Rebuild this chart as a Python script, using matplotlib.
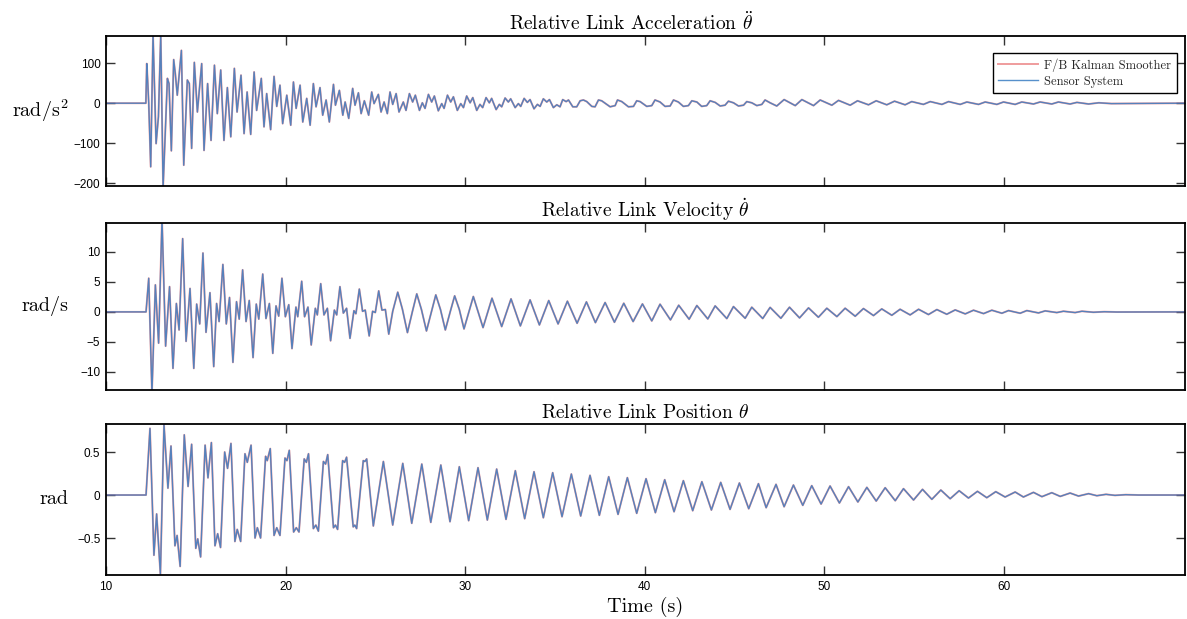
import matplotlib
matplotlib.use("Agg")
import matplotlib.pyplot as plt
from matplotlib.ticker import FuncFormatter

plt.rcParams['mathtext.fontset'] = 'cm'
plt.rcParams['font.family'] = ['Liberation Sans', 'DejaVu Sans']

# values (extrema of each trace); the smoother and
# the sensor traces lie on top of each other, so both use the same points
acc_t = [10.0, 12.22, 12.27, 12.32, 12.38, 12.49, 12.62, 12.79, 12.92, 13.05, 13.18,
         13.42, 13.51, 13.64, 13.77, 13.86, 13.97, 14.20, 14.33, 14.53, 14.64, 14.77,
         14.92, 15.09, 15.33, 15.46, 15.66, 15.85, 16.04, 16.20, 16.39, 16.57, 16.76,
         16.95, 17.15, 17.30, 17.52, 17.69, 17.86, 18.06, 18.25, 18.39, 18.65, 18.80,
         18.95, 19.17, 19.36, 19.51, 19.69, 19.84, 20.07, 20.29, 20.44, 20.59, 20.81,
         20.96, 21.18, 21.37, 21.55, 21.70, 21.92, 22.07, 22.26, 22.44, 22.67, 22.78,
         23.00, 23.19, 23.32, 23.52, 23.74, 23.87, 24.06, 24.21, 24.39, 24.63, 24.80,
         24.93, 25.17, 25.32, 25.49, 25.67, 25.82, 25.97, 26.16, 26.32,
         26.56, 26.71, 26.90, 27.08, 27.23, 27.46, 27.62, 27.77, 27.96, 28.14, 28.29,
         28.51, 28.70, 28.83, 29.02, 29.20, 29.35, 29.57, 29.76, 29.91, 30.09, 30.28,
         30.43, 30.65, 30.83, 30.98, 31.17, 31.35, 31.48, 31.73, 31.91, 32.04, 32.23,
         32.41, 32.54, 32.79, 32.97, 33.10, 33.29, 33.47, 33.62, 33.84, 34.03, 34.18,
         34.36, 34.55, 34.70, 34.92, 35.11, 35.29, 35.44, 35.63, 35.76,
         36.00, 36.22, 36.41, 36.59, 36.78, 37.06, 37.24, 37.43, 37.61, 38.08, 38.36,
         38.49, 38.73, 39.10, 39.38, 39.56, 39.75, 40.12, 40.40, 40.58, 40.86, 41.14,
         41.42, 41.61, 41.88, 42.16, 42.44, 42.63, 42.91, 43.18, 43.46, 43.65, 43.93,
         44.21, 44.48, 44.67, 44.95, 45.23, 45.51, 45.69, 45.97, 46.25, 46.53, 46.71,
         46.99, 47.36, 47.77, 48.39, 48.76, 49.41, 49.78, 50.43, 50.80, 51.45, 51.86,
         52.47, 52.90, 53.49, 53.92, 54.51, 54.88, 55.53, 55.91, 56.56, 56.93, 57.58,
         57.95, 58.60, 58.97, 59.62, 59.99, 60.64, 61.01, 61.66, 62.03, 62.68, 63.05,
         63.70, 64.08, 64.73, 65.30, 66.00, 70.10]
acc_v = [0, 0, 99, 57, 0, -159, 172, -101, -34, 172, -212,
         62, 49, -119, 109, 74, 20, 132, -155, 58, 49, -113,
         102, -22, 99, -118, 49, -93, 95, -26, 83, -93, 39,
         -84, 87, -22, 70, -76, 28, -78, 78, -18, 62, -59,
         24, -66, 67, -8, 45, -51, 20, -55, 53, -13, 45,
         -47, 12, -55, 49, -9, 39, -30, 8, -47, 47, -5,
         32, -30, 3, -38, 37, -5, 26, -26, 6, -30, 28,
         -1, 22, -22, 3, -26, 28, -3, 24, -22,
         3, -18, 24, 3, 20, -18, 1, -13, 22, 3, 18,
         -19, -1, -13, 20, 3, 16, -18, -1, -11, 18, 1,
         14, -18, -3, -11, 14, 1, 12, -16, -3, -9, 13,
         3, 11, -11, -1, -8, 12, 2, 9, -14, -3, -8,
         11, 3, 9, -11, -4, -9, 9, 4, 8,
         -9, -9, 6, 8, 4, -8, -9, 8, 6, -9, -6,
         8, 4, -9, -8, 6, 4, -8, -6, 8, 3, -8,
         -7, 8, 3, -8, -6, 6, 3, -8, -6, 6, 2,
         -7, -5, 5, 1, -7, -5, 4, 1, -6, -3, 8,
         1, -7, 9, -6, 9, -6, 8, -5, 7, -5, 6,
         -4, 6, -4, 5, -4, 4, -3, 4, -3, 4, -3,
         3, -3, 3, -3, 3, -3, 3, -2, 3, -2, 3,
         -2, 2, -2, 1, -1, 0]

vel_t = [10.0, 12.23, 12.38, 12.56, 12.75, 12.93, 13.12, 13.32, 13.54, 13.73, 13.92,
         14.07, 14.27, 14.46, 14.68, 14.89, 15.05, 15.22, 15.40, 15.57, 15.79, 16.00,
         16.16, 16.30, 16.51, 16.70, 16.88, 17.07, 17.27, 17.42, 17.61, 17.80, 17.98,
         18.19, 18.37, 18.51, 18.73, 18.91, 19.10, 19.29, 19.47, 19.62, 19.80, 19.99,
         20.18, 20.36, 20.58, 20.68, 20.90, 21.06, 21.25, 21.43, 21.66, 21.77, 21.96,
         22.14, 22.33, 22.51, 22.72, 22.85, 23.03, 23.22, 23.40, 23.59, 23.81, 23.92,
         24.11, 24.29, 24.44, 24.66, 24.85, 25.00, 25.19, 25.37, 25.56, 25.75, 25.97,
         26.25, 26.51, 26.79, 27.07, 27.31, 27.57, 27.85, 28.13, 28.37, 28.63, 28.90,
         29.18, 29.42, 29.68, 29.94, 30.22, 30.46, 31.00, 31.50, 32.04, 32.56, 33.08,
         33.62, 34.14, 34.66, 35.18, 35.70, 36.24, 36.76, 37.26, 37.80, 38.32, 38.84,
         39.36, 39.88, 40.40, 40.86, 41.44, 41.90, 42.48, 42.91, 43.52, 43.93, 44.58,
         44.95, 45.60, 45.97, 46.58, 46.99, 47.59, 48.07, 48.63, 49.13, 49.68, 50.15,
         50.71, 51.17, 51.73, 52.19, 52.75, 53.21, 53.77, 54.23, 54.79, 55.26, 55.81,
         56.28, 56.83, 57.30, 57.86, 58.32, 58.88, 59.34, 59.90, 60.27, 60.92, 61.29,
         61.94, 62.31, 62.96, 63.33, 63.98, 64.36, 65.00, 65.60, 66.30, 70.10]
vel_v = [0, 0, 5.6, -13.5, 4.5, -5.2, 15.5, -5.7, 4.2, -9.4, 1.4,
         -3.0, 12.2, -4.9, 3.9, -9.4, 1.3, -2.0, 9.8, -3.4, 3.2, -9.1,
         1.4, -1.6, 7.9, -2.0, 2.4, -8.4, 1.7, -1.2, 7.0, -1.6, 1.9,
         -7.6, 1.3, -1.2, 6.3, -1.1, 1.4, -6.9, 1.0, -0.7, 5.6, -0.8,
         1.2, -6.1, 0.8, -0.8, 5.1, -0.8, 0.8, -5.5, 0.6, -0.5, 4.7,
         -0.5, 0.6, -4.8, 0.3, -0.5, 4.2, -0.2, 0.6, -4.4, 0.2, -0.3,
         3.8, 0.1, 0.3, -4.0, 0.1, -0.1, 3.5, 0.3, 0.4, -3.7, 0.1,
         3.28, 0.45, -3.44, 0.1, 3.0, 0.4, -3.17, 0.1, 2.83, 0.4, -3.0,
         0.1, 2.67, 0.4, -2.83, 0.1, 2.56, -2.61, 2.28, -2.44, 2.17, -2.33,
         2.0, -2.17, 1.89, -2.0, 1.78, -1.89, 1.67, -1.78, 1.56, -1.72, 1.44,
         -1.61, 1.33, -1.5, 1.28, -1.33, 1.11, -1.22, 1.06, -1.17, 1.0, -1.11,
         0.89, -1.06, 0.78, -1.1, 0.75, -1.06, 0.78, -1.0, 0.67, -0.89, 0.61,
         -0.78, 0.61, -0.72, 0.56, -0.61, 0.5, -0.56, 0.44, -0.5, 0.44, -0.44,
         0.39, -0.39, 0.33, -0.33, 0.28, -0.28, 0.28, -0.22, 0.22, -0.22, 0.22,
         -0.17, 0.17, -0.11, 0.11, -0.11, 0.11, -0.06, 0.03, -0.02, 0]

pos_t = [10.0, 12.23, 12.45, 12.67, 12.82, 13.03, 13.23, 13.45, 13.62, 13.84, 13.96,
         14.13, 14.36, 14.57, 14.77, 15.00, 15.11, 15.27, 15.52, 15.68, 15.87, 16.07,
         16.22, 16.38, 16.61, 16.77, 16.96, 17.18, 17.31, 17.50, 17.74, 17.87, 18.08,
         18.30, 18.43, 18.61, 18.89, 18.98, 19.15, 19.36, 19.51, 19.69, 19.97, 20.08,
         20.21, 20.45, 20.60, 20.75, 21.04, 21.16, 21.28, 21.55, 21.69, 21.83, 22.11,
         22.23, 22.35, 22.67, 22.78, 22.90, 23.18, 23.29, 23.40, 23.77, 23.86, 23.96,
         24.33, 24.42, 24.52, 24.89, 25.45, 25.97, 26.53, 27.03, 27.59, 28.09, 28.65,
         29.16, 29.68, 30.20, 30.72, 31.24, 31.76, 32.28, 32.80, 33.32, 33.84, 34.36,
         34.88, 35.40, 35.92, 36.44, 36.96, 37.48, 38.00, 38.52, 39.04, 39.56, 40.08,
         40.60, 41.12, 41.64, 42.16, 42.68, 43.19, 43.72, 44.24, 44.76, 45.28, 45.80,
         46.34, 46.77, 47.32, 47.77, 48.29, 48.81, 49.31, 49.83, 50.33, 50.85, 51.36,
         51.88, 52.38, 52.90, 53.40, 53.96, 54.42, 54.98, 55.48, 56.00, 56.50, 57.02,
         57.52, 58.04, 58.54, 59.06, 59.56, 60.08, 60.64, 61.10, 61.66, 62.13, 62.68,
         63.15, 63.70, 64.17, 64.73, 65.19, 65.70, 66.20, 66.80, 67.50, 70.10]
pos_v = [0, 0, 0.775, -0.70, -0.22, -0.92, 0.82, 0.08, 0.57, -0.59, -0.47,
         -0.83, 0.70, 0.10, 0.59, -0.62, -0.51, -0.72, 0.58, 0.20, 0.61, -0.59,
         -0.45, -0.61, 0.50, 0.31, 0.60, -0.54, -0.40, -0.54, 0.48, 0.38, 0.58,
         -0.50, -0.38, -0.50, 0.45, 0.40, 0.54, -0.47, -0.38, -0.47, 0.43, 0.40,
         0.52, -0.43, -0.38, -0.43, 0.42, 0.38, 0.48, -0.39, -0.35, -0.42, 0.39,
         0.36, 0.47, -0.38, -0.35, -0.40, 0.40, 0.38, 0.44, -0.37, -0.35, -0.39,
         0.40, 0.39, 0.42, -0.36, 0.39, -0.349, 0.368, -0.329, 0.360, -0.318, 0.349,
         -0.310, 0.329, -0.298, 0.318, -0.291, 0.302, -0.283, 0.283, -0.275, 0.271, -0.264,
         0.260, -0.252, 0.244, -0.244, 0.229, -0.236, 0.213, -0.225, 0.202, -0.213, 0.190,
         -0.205, 0.178, -0.194, 0.167, -0.182, 0.155, -0.174, 0.147, -0.167, 0.140, -0.159,
         0.132, -0.147, 0.124, -0.136, 0.116, -0.120, 0.109, -0.105, 0.105, -0.093, 0.097,
         -0.081, 0.089, -0.070, 0.085, -0.066, 0.074, -0.058, 0.066, -0.050, 0.058, -0.043,
         0.050, -0.035, 0.043, -0.031, 0.039, -0.023, 0.035, -0.023, 0.031, -0.019, 0.027,
         -0.016, 0.023, -0.012, 0.016, -0.008, 0.008, -0.004, 0.004, 0.0, 0.0]

kalman_color = '#e0393b'
sensor_color = '#3a7dc2'
serif = 'cmr10'


def tick_label(val, pos):
    return ('%g' % val).replace('-', '\u2212')


def draw_panel(ax, t, v, title, ylabel, yticks, ylim, title_x=0.5):
    ax.plot(t, v, color=kalman_color, lw=1.4, alpha=0.5, label='F/B Kalman Smoother')
    ax.plot(t, v, color=sensor_color, lw=1.0, alpha=0.85, label='Sensor System')
    ax.set_xlim(10, 70.1)
    ax.set_ylim(*ylim)
    ax.set_xticks([10, 20, 30, 40, 50, 60])
    ax.set_yticks(yticks)
    ax.yaxis.set_major_formatter(FuncFormatter(tick_label))
    ax.tick_params(direction='in', top=True, right=True, length=6.5, width=1.0,
                   color='#333333', labelsize=8.5, pad=4)
    for sp in ax.spines.values():
        sp.set_linewidth(1.3)
        sp.set_color('black')
    ax.set_title(title, fontfamily=serif, fontsize=14, pad=4, x=title_x)
    ax.set_ylabel(ylabel, fontfamily=serif, fontsize=14.5, rotation=0,
                  ha='right', va='center')
    ax.yaxis.set_label_coords(-0.035, 0.5)


fig = plt.figure(figsize=(11.87, 6.19), dpi=100)
left = 106 / 1187
width = 1079 / 1187
ax_acc = fig.add_axes([left, 1 - 186 / 619, width, 150 / 619])
ax_vel = fig.add_axes([left, 1 - 390 / 619, width, 167 / 619])
ax_pos = fig.add_axes([left, 1 - 575 / 619, width, 151 / 619])

draw_panel(ax_acc, acc_t, acc_v, r'Relative Link Acceleration $\ddot{\theta}$',
           r'rad/s$^2$', [-200, -100, 0, 100], (-207, 168), title_x=0.487)
draw_panel(ax_vel, vel_t, vel_v, r'Relative Link Velocity $\dot{\theta}$',
           'rad/s', [-10, -5, 0, 5, 10], (-13, 14.8))
draw_panel(ax_pos, pos_t, pos_v, r'Relative Link Position $\theta$',
           'rad', [-0.5, 0, 0.5], (-0.93, 0.826))

ax_acc.tick_params(labelbottom=False)
ax_vel.tick_params(labelbottom=False)
ax_pos.set_xlabel('Time (s)', fontfamily=serif, fontsize=14.5, labelpad=3)

leg = ax_acc.legend(loc='upper right', bbox_to_anchor=(0.9926, 0.889),
                    borderaxespad=0, fancybox=False, framealpha=1,
                    edgecolor='black', prop={'family': serif, 'size': 9},
                    handlelength=3.2, borderpad=0.45, labelspacing=0.3,
                    handletextpad=0.5)
leg.get_frame().set_linewidth(1.0)
for txt in leg.get_texts():
    txt.set_color('#262626')

fig.savefig('out.png', dpi=100)
